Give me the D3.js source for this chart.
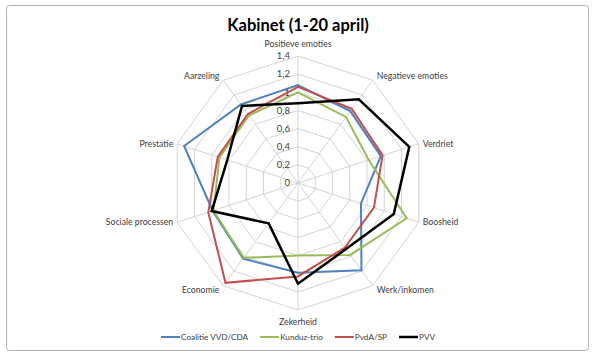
<!DOCTYPE html>
<html>
<head>
<meta charset="utf-8">
<script src="https://cdn.jsdelivr.net/npm/d3@7"></script>
<style>
  body { margin: 0; background: #fff; }
  text { font-family: Lato, "Open Sans", sans-serif; }
</style>
</head>
<body>
<script>

var width = 595,
    height = 360;

// axes, clockwise from the top
var axes = ['Positieve emoties', 'Negatieve emoties', 'Verdriet', 'Boosheid',
    'Werk/inkomen', 'Zekerheid', 'Economie', 'Sociale processen', 'Prestatie', 'Aarzeling'];

var ticks = [0, 0.2, 0.4, 0.6, 0.8, 1, 1.2, 1.4];

var seriesNames = ['Coalitie VVD/CDA', 'Kunduz-trio', 'PvdA/SP', 'PVV'];
var colors = ['#4f81bd', '#9bbb59', '#c0504d', '#000000'];

var coalitie = [1.08, 0.98, 0.96, 0.73, 1.19, 0.99, 1.03, 0.99, 1.32, 1.07];
var kunduz   = [1.00, 0.90, 0.82, 1.26, 0.98, 0.80, 1.02, 0.98, 0.91, 0.92];
var pvdaSp   = [1.06, 1.01, 0.98, 0.88, 0.88, 1.03, 1.36, 1.04, 0.93, 0.94];
var pvv      = [0.88, 1.14, 1.29, 1.11, 0.90, 1.11, 0.55, 1.00, 0.82, 1.05];

var seriesValues = [coalitie, kunduz, pvdaSp, pvv];

var cx = 298,
    cy = 183;

var svg = d3.select('body')
    .append('svg')
    .attr('width', width)
    .attr('height', height);

// chart frame
svg.append('rect')
    .attr('x', 6.5)
    .attr('y', 5.5)
    .attr('width', 582)
    .attr('height', 345)
    .attr('rx', 3)
    .style('fill', '#fff')
    .style('stroke', '#b0b0b0');

svg.append('text')
    .attr('x', cx)
    .attr('y', 31)
    .attr('text-anchor', 'middle')
    .style('font-size', '16.5px')
    .style('font-weight', 'bold')
    .style('fill', '#000')
    .text('Kabinet (1-20 april)');

var r = d3.scaleLinear()
    .domain([0, 1.4])
    .range([0, 127]);

var step = 2 * Math.PI / axes.length;

var g = svg.append('g')
    .attr('transform', 'translate(' + cx + ',' + cy + ')');

var radial = d3.lineRadial()
    .angle(function(d, i) { return i * step; })
    .radius(function(d) { return r(d); })
    .curve(d3.curveLinearClosed);

// grid rings
g.selectAll('path.ring')
    .data(ticks.filter(function(t) { return t > 0; }))
    .enter()
    .append('path')
    .classed('ring', true)
    .attr('d', function(t) { return radial(axes.map(function() { return t; })); })
    .style('fill', 'none')
    .style('stroke', '#d4d4d4')
    .style('stroke-width', 1);

// spokes
g.selectAll('line.spoke')
    .data(axes)
    .enter()
    .append('line')
    .classed('spoke', true)
    .attr('x1', 0)
    .attr('y1', 0)
    .attr('x2', function(d, i) { return r(1.4) * Math.sin(i * step); })
    .attr('y2', function(d, i) { return -r(1.4) * Math.cos(i * step); })
    .style('stroke', '#d4d4d4')
    .style('stroke-width', 1);

// tick labels
g.selectAll('text.tick')
    .data(ticks)
    .enter()
    .append('text')
    .classed('tick', true)
    .attr('x', -8)
    .attr('y', function(d) { return -r(d); })
    .attr('dy', '0.35em')
    .attr('text-anchor', 'end')
    .style('font-size', '9.5px')
    .style('fill', '#404040')
    .text(function(d) { return String(d).replace('.', ','); });

// axis labels
g.selectAll('text.axis-label')
    .data(axes)
    .enter()
    .append('text')
    .classed('axis-label', true)
    .attr('x', function(d, i) {
        var s = Math.sin(i * step);
        return r(1.4) * s + (Math.abs(s) < 0.01 ? 0 : (s > 0 ? 4 : -4));
    })
    .attr('y', function(d, i) {
        var c = Math.cos(i * step);
        var y = -r(1.4) * c;
        if (Math.abs(c) > 0.99) return y - c * 12;
        if (Math.abs(c) > 0.5) return y - c * 5;
        return y;
    })
    .attr('dy', '0.35em')
    .attr('text-anchor', function(d, i) {
        var s = Math.sin(i * step);
        return Math.abs(s) < 0.01 ? 'middle' : (s > 0 ? 'start' : 'end');
    })
    .style('font-size', '8.7px')
    .style('fill', '#404040')
    .text(function(d) { return d; });

// series
g.selectAll('path.series')
    .data(seriesValues)
    .enter()
    .append('path')
    .classed('series', true)
    .attr('d', function(d) { return radial(d); })
    .style('fill', 'none')
    .style('stroke', function(d, i) { return colors[i]; })
    .style('stroke-width', function(d, i) { return i === 3 ? 2.5 : 2; })
    .style('stroke-linejoin', 'miter');

// legend
var legend = svg.append('g');
var lx = 0;
seriesNames.forEach(function(name, i) {
    var item = legend.append('g').attr('transform', 'translate(' + lx + ',0)');
    item.append('line')
        .attr('x1', 0)
        .attr('x2', 19)
        .attr('y1', 0)
        .attr('y2', 0)
        .style('stroke', colors[i])
        .style('stroke-width', i === 3 ? 2.5 : 2);
    var t = item.append('text')
        .attr('x', 20)
        .attr('dy', '0.35em')
        .style('font-size', '8.2px')
        .style('fill', '#404040')
        .text(name);
    lx += 20 + t.node().getComputedTextLength() + 12;
});
lx -= 12;
legend.attr('transform', 'translate(' + (cx - lx / 2) + ',337)');

</script>
</body>
</html>
